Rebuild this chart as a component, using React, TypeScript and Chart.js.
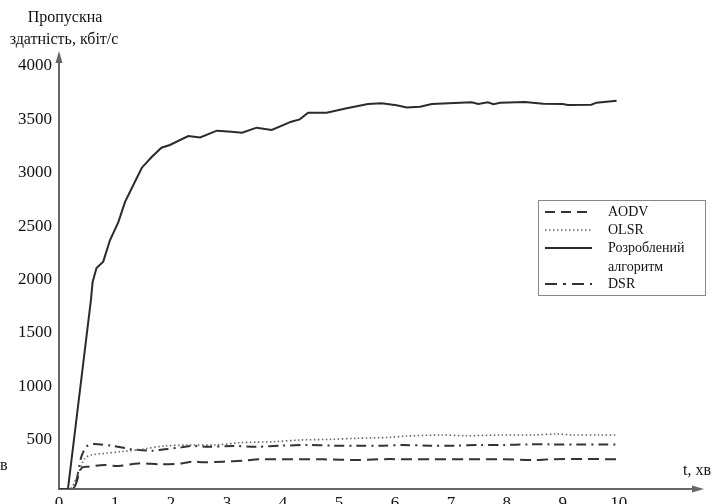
import { useEffect, useRef } from "react";
import { Chart, registerables } from "chart.js";

Chart.register(...registerables);

const xTickValues = [0, 1, 2, 3, 4, 5, 6, 7, 8, 9, 10];
const yTickValues = [500, 1000, 1500, 2000, 2500, 3000, 3500, 4000];

const seriesLabels = ["AODV", "OLSR", "Розроблений алгоритм", "DSR"];

const mainX = [0, 0.16, 0.57, 0.6, 0.67, 0.79, 0.91, 1.06, 1.18, 1.33, 1.48, 1.66, 1.83, 1.98, 2.31, 2.52, 2.82, 3.08, 3.27, 3.53, 3.8, 4.15, 4.3, 4.45, 4.78, 5.14, 5.52, 5.76, 6.03, 6.21, 6.45, 6.66, 7.37, 7.49, 7.66, 7.76, 7.88, 8.32, 8.65, 9.0, 9.09, 9.51, 9.6, 9.96];
const mainY = [0, 0, 1770, 1940, 2070, 2130, 2330, 2500, 2690, 2850, 3010, 3113, 3197, 3223, 3307, 3294, 3357, 3347, 3338, 3385, 3363, 3441, 3463, 3525, 3525, 3566, 3606, 3613, 3594, 3575, 3582, 3607, 3623, 3607, 3623, 3604, 3619, 3625, 3610, 3607, 3597, 3600, 3619, 3638];

const olsrX = [0, 0.2, 0.32, 0.46, 0.58, 0.82, 1.12, 1.48, 1.89, 2.31, 2.8, 3.23, 3.83, 4.3, 4.84, 5.32, 5.91, 6.21, 6.82, 7.28, 7.88, 8.47, 8.89, 9.18, 9.66, 9.96];
const olsrY = [0, 0, 115, 287, 318, 334, 350, 372, 403, 412, 412, 434, 443, 459, 465, 475, 484, 496, 506, 499, 506, 506, 515, 506, 506, 506];

const dsrX = [0, 0.25, 0.4, 0.49, 0.61, 0.97, 1.3, 1.66, 1.89, 2.19, 2.37, 2.64, 3.11, 3.53, 3.98, 4.45, 4.9, 5.32, 5.73, 6.14, 6.62, 7.07, 7.52, 7.93, 8.38, 8.8, 9.25, 9.69, 9.96];
const dsrY = [0, 0, 303, 396, 421, 403, 372, 359, 372, 390, 403, 396, 403, 396, 406, 412, 406, 406, 406, 412, 406, 406, 412, 412, 418, 418, 418, 418, 418];

const aodvX = [0, 0.25, 0.4, 0.52, 0.82, 1.06, 1.42, 1.83, 2.19, 2.4, 2.58, 2.93, 3.29, 3.59, 4.13, 4.72, 5.32, 5.91, 6.09, 6.68, 7.28, 7.88, 8.47, 8.77, 9.36, 9.96];
const aodvY = [0, 0, 194, 209, 225, 215, 240, 231, 240, 256, 250, 256, 265, 278, 278, 278, 272, 281, 278, 278, 278, 278, 272, 278, 281, 278];

const toPoints = (xs: number[], ys: number[]) => xs.map((x, i) => ({ x, y: ys[i] }));

const SERIF = "'Liberation Serif', 'Times New Roman', serif";

const decorPlugin = {
  id: "decor",
  afterDraw(chart: any) {
    const { ctx, chartArea } = chart;
    const { left, right, top, bottom } = chartArea;
    ctx.save();
    // axis arrows
    ctx.fillStyle = "#666";
    ctx.beginPath();
    ctx.moveTo(left, top - 6);
    ctx.lineTo(left - 3.5, top + 6);
    ctx.lineTo(left + 3.5, top + 6);
    ctx.closePath();
    ctx.fill();
    ctx.beginPath();
    ctx.moveTo(right + 4, bottom);
    ctx.lineTo(right - 8, bottom - 3.5);
    ctx.lineTo(right - 8, bottom + 3.5);
    ctx.closePath();
    ctx.fill();

    // axis titles
    ctx.fillStyle = "#111";
    ctx.font = `16px ${SERIF}`;
    ctx.textAlign = "center";
    ctx.textBaseline = "middle";
    ctx.fillText("Пропускна", 65, 18);
    ctx.fillText("здатність, кбіт/с", 64, 40);
    ctx.textAlign = "left";
    ctx.fillText("t, хв", 683, 471);
    ctx.fillText("в", 0, 466);

    // legend
    const bx = 538, by = 200, bw = 167, bh = 95;
    ctx.strokeStyle = "#888";
    ctx.lineWidth = 1;
    ctx.strokeRect(bx + 0.5, by + 0.5, bw, bh);
    const rows = [212, 230, 248, 284];
    const legendDash = [[10, 6], [1.5, 2.5], [], [12, 6, 3, 6]];
    chart.data.datasets.forEach((ds: any, i: number) => {
      const y = rows[i];
      ctx.beginPath();
      ctx.setLineDash(legendDash[i]);
      ctx.strokeStyle = ds.borderColor;
      ctx.lineWidth = i === 1 ? 1.5 : 2;
      ctx.moveTo(545, y);
      ctx.lineTo(592, y);
      ctx.stroke();
      ctx.setLineDash([]);
      ctx.fillStyle = "#111";
      ctx.font = `14px ${SERIF}`;
      ctx.textAlign = "left";
      ctx.textBaseline = "middle";
      const parts = String(ds.label).split(" ");
      if (i === 2 && parts.length > 1) {
        ctx.fillText(parts[0], 608, y);
        ctx.fillText(parts.slice(1).join(" "), 608, y + 19);
      } else {
        ctx.fillText(ds.label, 608, y);
      }
    });
    ctx.restore();
  },
};

export default function App() {
  const ref = useRef<HTMLCanvasElement>(null);
  useEffect(() => {
    if (!ref.current) return;
    const chart = new Chart(ref.current, {
      type: "line",
      data: {
        datasets: [
          {
            label: seriesLabels[0],
            data: toPoints(aodvX, aodvY),
            borderColor: "#333",
            borderWidth: 2,
            borderDash: [11, 6],
            pointRadius: 0,
            tension: 0.3,
            fill: false,
          },
          {
            label: seriesLabels[1],
            data: toPoints(olsrX, olsrY),
            borderColor: "#666",
            borderWidth: 1.6,
            borderDash: [1.5, 2.5],
            pointRadius: 0,
            tension: 0.3,
            fill: false,
          },
          {
            label: seriesLabels[2],
            data: toPoints(mainX, mainY),
            borderColor: "#2a2a2a",
            borderWidth: 2,
            pointRadius: 0,
            tension: 0,
            fill: false,
          },
          {
            label: seriesLabels[3],
            data: toPoints(dsrX, dsrY),
            borderColor: "#333",
            borderWidth: 2,
            borderDash: [10, 5, 2, 5],
            pointRadius: 0,
            tension: 0.3,
            fill: false,
          },
        ],
      },
      options: {
        animation: false,
        responsive: false,
        devicePixelRatio: 1,
        layout: { padding: { top: 57, right: 12, left: 0, bottom: 0 } },
        plugins: { legend: { display: false }, tooltip: { enabled: false } },
        scales: {
          x: {
            type: "linear",
            min: 0,
            max: 11.45,
            grid: { display: false, drawTicks: false },
            border: { display: true, color: "#666", width: 2 },
            afterBuildTicks: (scale: any) => {
              scale.ticks = xTickValues.map((v) => ({ value: v }));
            },
            afterFit: (scale: any) => {
              scale.height = 31;
            },
            ticks: {
              autoSkip: false,
              maxRotation: 0,
              padding: 4,
              color: "#111",
              font: { family: SERIF, size: 17 },
              callback: (v: any) => String(v),
            },
          },
          y: {
            type: "linear",
            min: 0,
            max: 4047,
            grid: { display: false, drawTicks: false },
            border: { display: true, color: "#666", width: 2 },
            afterBuildTicks: (scale: any) => {
              scale.ticks = yTickValues.map((v) => ({ value: v }));
            },
            afterFit: (scale: any) => {
              scale.width = 59;
            },
            ticks: {
              autoSkip: false,
              padding: 7,
              labelOffset: 4,
              color: "#111",
              font: { family: SERIF, size: 17 },
              callback: (v: any) => String(v),
            },
          },
        },
      },
      plugins: [decorPlugin],
    } as any);
    return () => chart.destroy();
  }, []);
  return (
    <div style={{ position: "absolute", left: 0, top: 0, width: 712, height: 520, overflow: "hidden" }}>
      <canvas ref={ref} width={712} height={520} style={{ display: "block" }} />
    </div>
  );
}
